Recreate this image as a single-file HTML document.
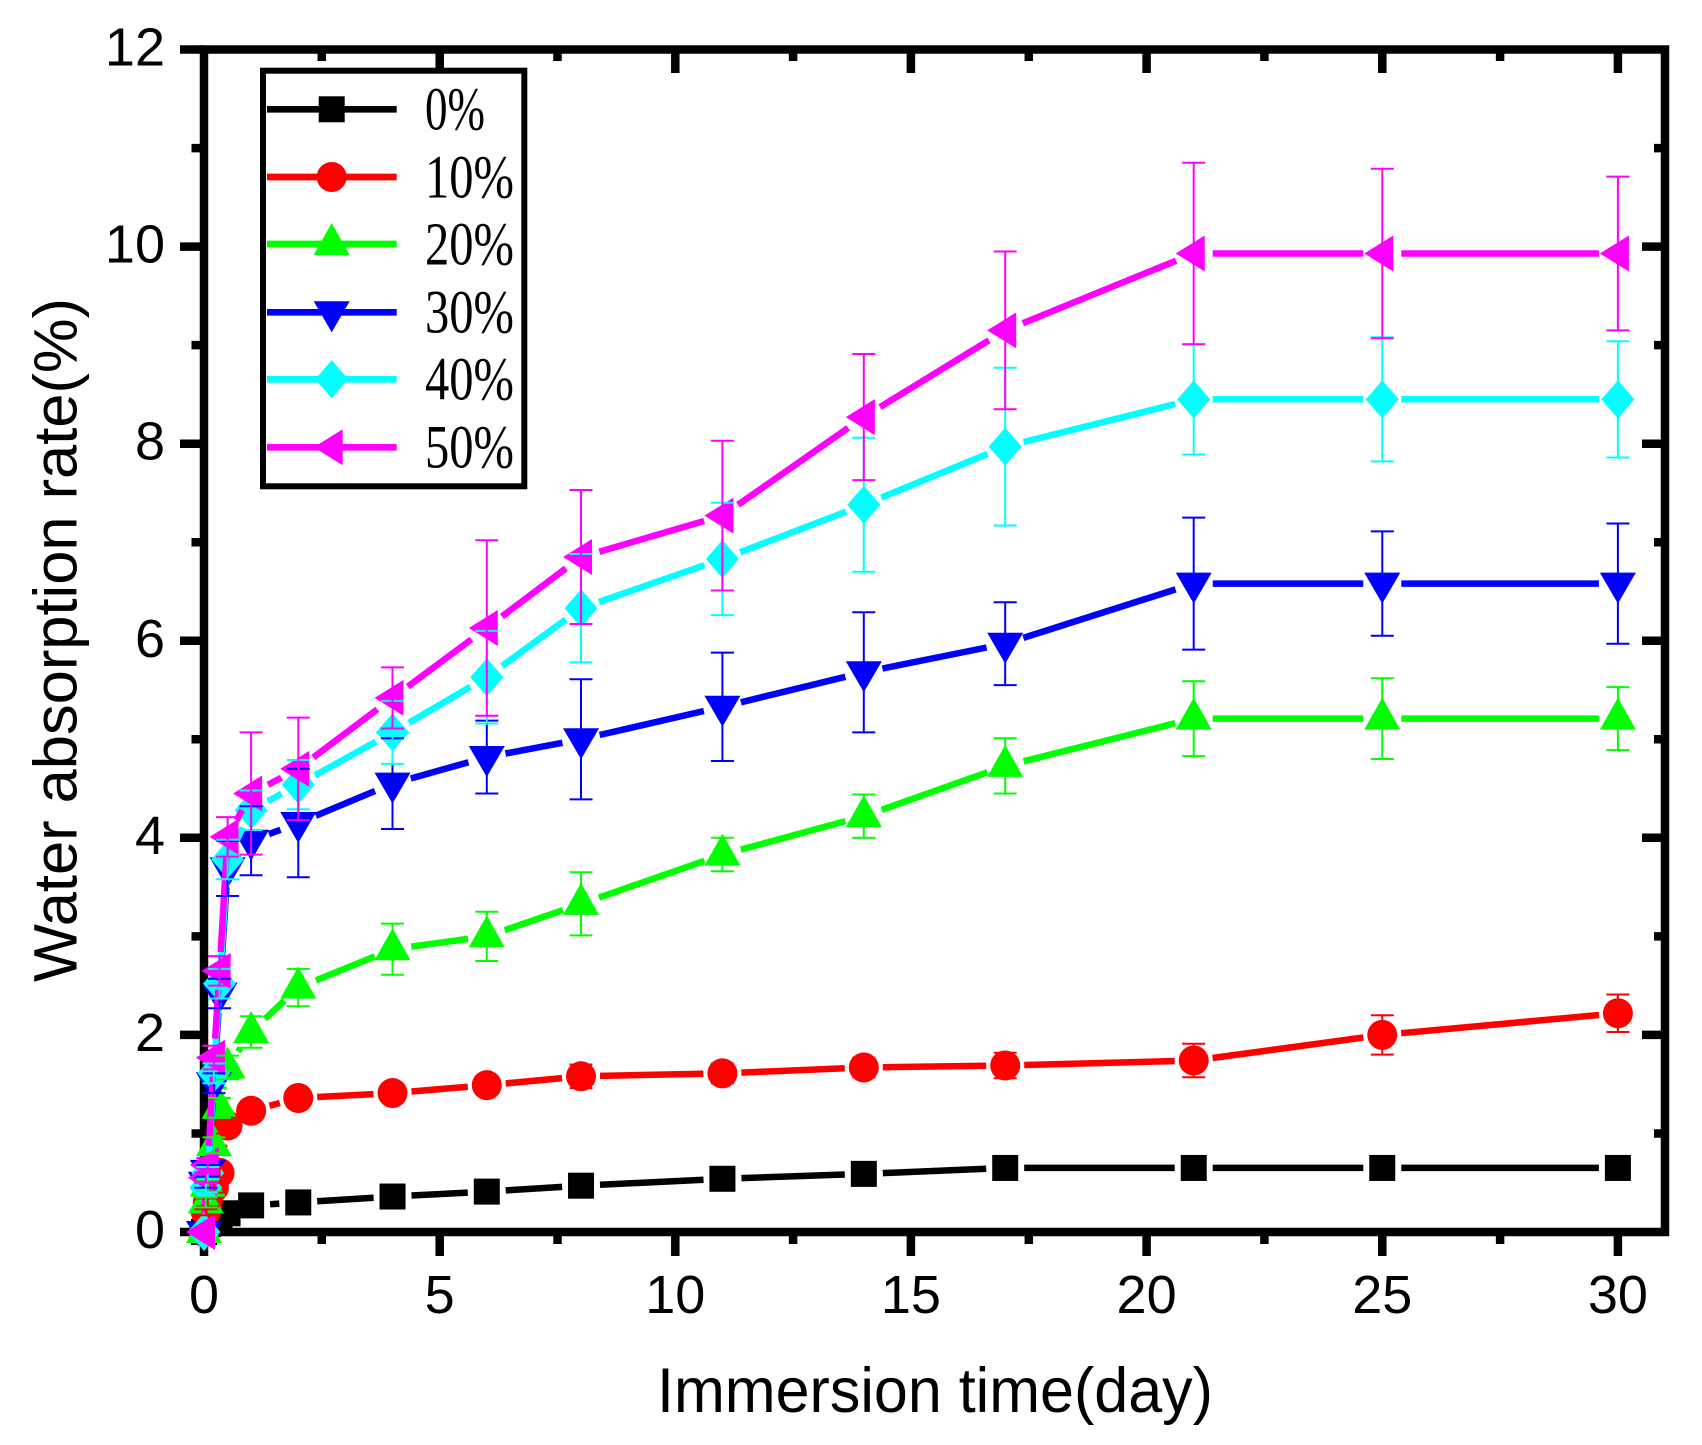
<!DOCTYPE html>
<html><head><meta charset="utf-8">
<style>html,body{margin:0;padding:0;background:#fff;}svg{display:block}</style>
</head><body>
<svg id="s" xmlns="http://www.w3.org/2000/svg" width="1702" height="1445" viewBox="0 0 1702 1445">
<rect width="1702" height="1445" fill="#fff"/>
<!-- frame -->
<rect x="204" y="49.5" width="1461" height="1182.5" fill="none" stroke="#000" stroke-width="8.5"/>
<g stroke="#000" stroke-width="8.5" fill="none">
<path d="M180 1232H204M180 1034.9H204M180 837.8H204M180 640.8H204M180 443.7H204M180 246.6H204M180 49.5H204"/>
<path d="M191.5 1133.5H204M191.5 936.4H204M191.5 739.3H204M191.5 542.2H204M191.5 345.1H204M191.5 148.1H204"/>
<path d="M1642 1034.9H1665M1642 837.8H1665M1642 640.8H1665M1642 443.7H1665M1642 246.6H1665"/>
<path d="M1654 1133.5H1665M1654 936.4H1665M1654 739.3H1665M1654 542.2H1665M1654 345.1H1665M1654 148.1H1665"/>
<path d="M204 1232V1256M439.7 1232V1256M675.3 1232V1256M910.9 1232V1256M1146.6 1232V1256M1382.3 1232V1256M1617.9 1232V1256"/>
<path d="M321.8 1232V1244M557.5 1232V1244M793.1 1232V1244M1028.8 1232V1244M1264.4 1232V1244M1500.1 1232V1244"/>
<path d="M439.7 49.5V73M675.3 49.5V73M910.9 49.5V73M1146.6 49.5V73M1382.3 49.5V73M1617.9 49.5V73"/>
<path d="M321.8 49.5V61M557.5 49.5V61M793.1 49.5V61M1028.8 49.5V61M1264.4 49.5V61M1500.1 49.5V61"/>
</g>
<g font-family="'Liberation Sans', Arial, sans-serif" font-size="54" fill="#000" text-anchor="end">
<text x="165" y="65.5">12</text>
<text x="165" y="262.6">10</text>
<text x="165" y="459.7">8</text>
<text x="165" y="656.8">6</text>
<text x="165" y="853.8">4</text>
<text x="165" y="1050.9">2</text>
<text x="165" y="1248">0</text>
</g>
<g font-family="'Liberation Sans', Arial, sans-serif" font-size="54" fill="#000" text-anchor="middle">
<text x="204" y="1313">0</text>
<text x="439.7" y="1313">5</text>
<text x="675.3" y="1313">10</text>
<text x="910.9" y="1313">15</text>
<text x="1146.6" y="1313">20</text>
<text x="1382.3" y="1313">25</text>
<text x="1617.9" y="1313">30</text>
</g>
<text x="657" y="1412" font-family="'Liberation Sans', Arial, sans-serif" font-size="63" fill="#000" textLength="556" lengthAdjust="spacingAndGlyphs">Immersion time(day)</text>
<text transform="translate(76.7,982) rotate(-90)" font-family="'Liberation Sans', Arial, sans-serif" font-size="61" fill="#000" textLength="684" lengthAdjust="spacingAndGlyphs">Water absorption rate(%)</text>

<g id="data"></g>

<!-- legend -->
<rect x="263" y="70.7" width="261.3" height="415.6" fill="#fff" stroke="#000" stroke-width="6"/>
<g id="leg"></g>
<g font-family="'Liberation Serif', 'Times New Roman', serif" font-size="61" fill="#000">
<text x="425" y="129.5" textLength="60" lengthAdjust="spacingAndGlyphs">0%</text>
<text x="425" y="197.5" textLength="89" lengthAdjust="spacingAndGlyphs">10%</text>
<text x="425" y="264.5" textLength="89" lengthAdjust="spacingAndGlyphs">20%</text>
<text x="425" y="332.5" textLength="89" lengthAdjust="spacingAndGlyphs">30%</text>
<text x="425" y="399.5" textLength="89" lengthAdjust="spacingAndGlyphs">40%</text>
<text x="425" y="467.5" textLength="89" lengthAdjust="spacingAndGlyphs">50%</text>
</g>
</svg>
<script>
(function(){
var NS='http://www.w3.org/2000/svg';
function X(t){return 204+t*47.13;}
function Y(v){return 1232-v*98.54;}
var T=[0,0.04,0.08,0.21,0.33,0.5,1,2,4,6,8,11,14,17,21,25,30];
var S=[
 {c:'#000000',m:'sq',v:[0,0.05,0.08,0.11,0.15,0.19,0.27,0.30,0.36,0.41,0.47,0.54,0.59,0.65,0.65,0.65,0.65],e:[0,0,0,0,0,0,0.02,0.02,0.02,0.02,0.02,0.02,0.02,0.02,0.02,0.02,0.02]},
 {c:'#ff0000',m:'ci',v:[0,0.2,0.3,0.45,0.6,1.08,1.23,1.36,1.41,1.49,1.58,1.61,1.67,1.69,1.74,2.0,2.22],e:[0,0.03,0.04,0.05,0.06,0.08,0.07,0.08,0.08,0.09,0.12,0.1,0.1,0.13,0.17,0.2,0.19]},
 {c:'#00ff00',m:'up',v:[0,0.3,0.47,0.88,1.26,1.67,2.03,2.48,2.87,3.0,3.33,3.83,4.22,4.73,5.21,5.21,5.21],e:[0,0.05,0.06,0.08,0.1,0.12,0.16,0.19,0.26,0.25,0.32,0.17,0.22,0.28,0.38,0.41,0.32]},
 {c:'#0000ff',m:'dn',v:[0,0.5,0.62,1.51,2.42,3.69,3.97,4.15,4.55,4.82,5.0,5.33,5.68,5.97,6.58,6.58,6.58],e:[0,0.05,0.06,0.1,0.15,0.28,0.35,0.55,0.46,0.37,0.61,0.55,0.61,0.42,0.67,0.53,0.61]},
 {c:'#00ffff',m:'di',v:[0,0.45,0.6,1.61,2.52,3.78,4.28,4.54,5.07,5.63,6.33,6.83,7.38,7.97,8.45,8.45,8.45],e:[0,0.05,0.06,0.1,0.15,0.2,0.2,0.25,0.32,0.47,0.55,0.57,0.68,0.8,0.56,0.63,0.59]},
 {c:'#ff00ff',m:'lt',v:[0,0.55,0.68,1.77,2.65,4.01,4.45,4.70,5.42,6.13,6.85,7.27,8.27,9.15,9.93,9.93,9.93],e:[0,0.05,0.07,0.12,0.15,0.2,0.62,0.52,0.31,0.89,0.68,0.76,0.64,0.8,0.92,0.86,0.78]}
];
function el(tag,attrs,parent){var e=document.createElementNS(NS,tag);for(var k in attrs)e.setAttribute(k,attrs[k]);parent.appendChild(e);return e;}
function marker(m,cx,cy,c,g){
 var p;
 if(m==='sq'){el('rect',{x:cx-13,y:cy-13,width:26,height:26,fill:c},g);return;}
 if(m==='ci'){el('circle',{cx:cx,cy:cy,r:15,fill:c},g);return;}
 if(m==='up')p=[[0,-21],[-18,11],[18,11]];
 if(m==='dn')p=[[-18,-11],[18,-11],[0,20]];
 if(m==='di')p=[[0,-19],[16.5,0],[0,19],[-16.5,0]];
 if(m==='lt')p=[[-18,0],[11,-18],[11,18]];
 el('polygon',{points:p.map(function(q){return (cx+q[0])+','+(cy+q[1]);}).join(' '),fill:c},g);
}
var data=document.getElementById('data');
var gl=el('g',{},data);
var ge=el('g',{},data);
S.forEach(function(s){
 var gs=el('g',{},gl);
 var d='';
 for(var i=0;i<T.length-1;i++){
  var x1=X(T[i]),y1=Y(s.v[i]),x2=X(T[i+1]),y2=Y(s.v[i+1]);
  var dx=x2-x1,dy=y2-y1,L=Math.sqrt(dx*dx+dy*dy),g=19;
  if(L>2*g+1){
   var ux=dx/L,uy=dy/L;
   d+='M'+(x1+ux*g).toFixed(1)+' '+(y1+uy*g).toFixed(1)+'L'+(x2-ux*g).toFixed(1)+' '+(y2-uy*g).toFixed(1);
  }
 }
 el('path',{d:d,stroke:s.c,'stroke-width':6.5,fill:'none'},gs);
 for(var i=0;i<T.length;i++) marker(s.m,X(T[i]),Y(s.v[i]),s.c,gs);
 var ed='';
 for(var i=0;i<T.length;i++){
  if(!s.e[i])continue;
  var x=X(T[i]),a=Y(s.v[i]+s.e[i]),b=Y(s.v[i]-s.e[i]);
  ed+='M'+x.toFixed(1)+' '+a.toFixed(1)+'V'+b.toFixed(1)+'M'+(x-11.5).toFixed(1)+' '+a.toFixed(1)+'H'+(x+11.5).toFixed(1)+'M'+(x-11.5).toFixed(1)+' '+b.toFixed(1)+'H'+(x+11.5).toFixed(1);
 }
 if(ed)el('path',{d:ed,stroke:s.c,'stroke-width':2,fill:'none'},ge);
});
// legend
var leg=document.getElementById('leg');
var rows=[109.3,177,244,312.3,379.3,447.3];
S.forEach(function(s,i){
 el('path',{d:'M267 '+rows[i]+'H396.7',stroke:s.c,'stroke-width':6.7,fill:'none'},leg);
 marker(s.m,331.7,rows[i],s.c,leg);
});
})();
</script>
</body></html>
